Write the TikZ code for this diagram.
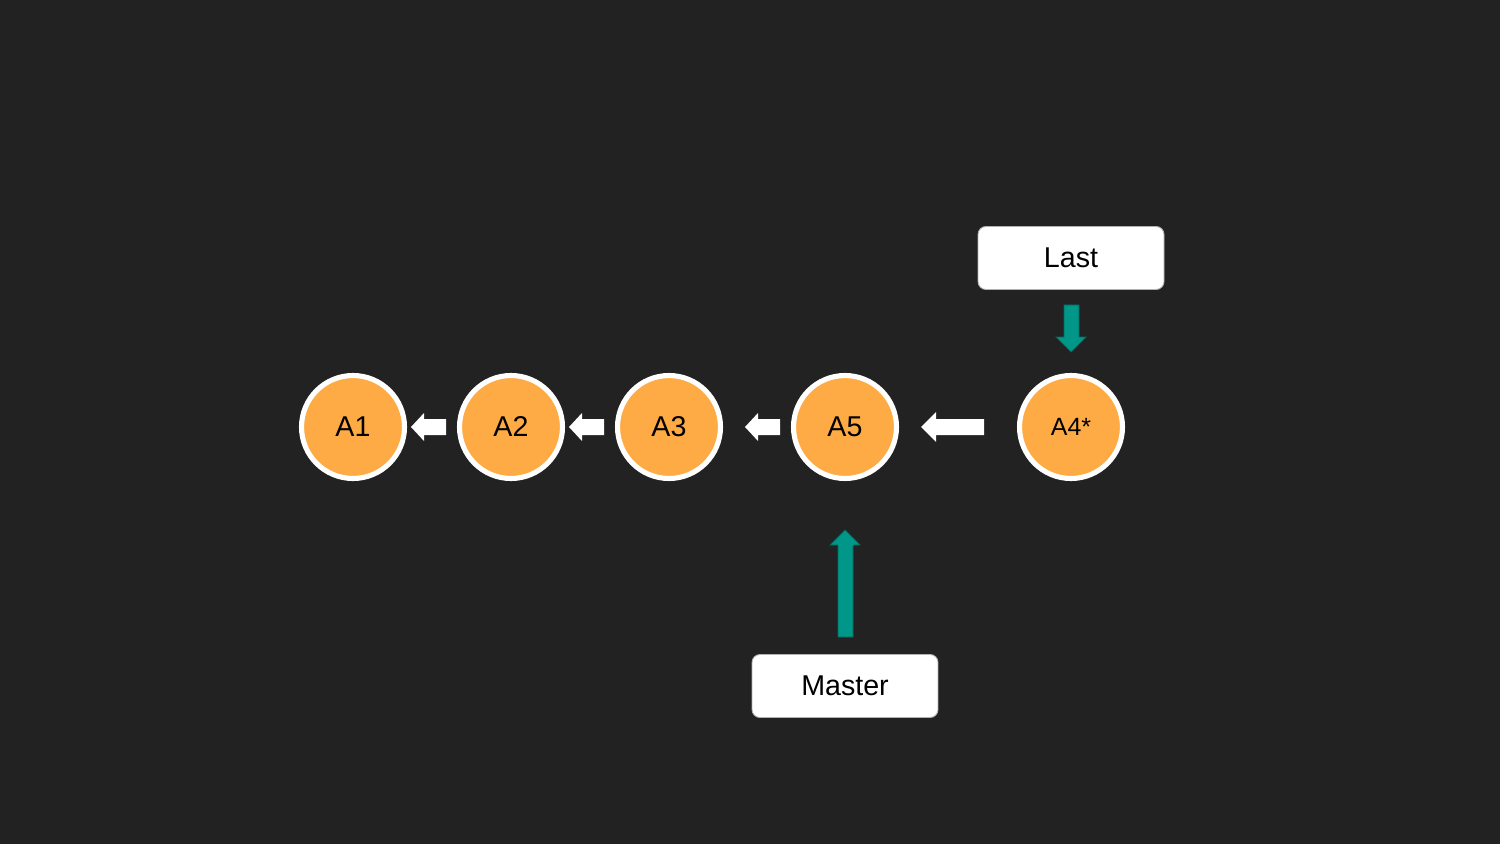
\documentclass[tikz,border=0pt]{standalone}
\usepackage{fontspec}
\setmainfont{Liberation Sans}
\begin{document}
\begin{tikzpicture}[x=0.02cm,y=-0.02cm,
  commit/.style={circle,fill=corange,draw=white,line width=2.9pt,minimum size=2.06cm,inner sep=0pt,font=\fontsize{16.3}{18}\selectfont,text=black},
  label box/.style={rectangle,rounded corners=4.5pt,fill=white,draw=gray!60,line width=0.5pt,minimum width=3.72cm,minimum height=1.26cm,font=\fontsize{16.3}{18}\selectfont,text=black},
  whitearrow/.style={fill=white},
  tealarrow/.style={fill=cteal,draw=cteal!70!black,line width=0.4pt}]
\definecolor{bg}{HTML}{222222}
\definecolor{corange}{HTML}{FFAB45}
\definecolor{cteal}{HTML}{009688}
\fill[bg] (0,0) rectangle (1500,844);
\useasboundingbox (0,0) rectangle (1500,844);
\node[commit] (a1) at (353,427) {A1};
\node[commit] (a2) at (511,427) {A2};
\node[commit] (a3) at (669,427) {A3};
\node[commit] (a5) at (845,427) {A5};
\node[commit,font=\fontsize{14.2}{16}\selectfont] (a4) at (1071,427) {A4*};
\node[label box] (last) at (1071,258) {Last};
\node[label box] (master) at (845,686) {Master};
% white left arrows: tip, tail
\newcommand{\leftarrowshape}[2]{%
  \fill[whitearrow] (#1,427) -- ({#1+13},413) -- ({#1+13},419) -- (#2,419) -- (#2,435) -- ({#1+13},435) -- ({#1+13},441) -- cycle;}
\leftarrowshape{411}{446}
\leftarrowshape{569}{604}
\leftarrowshape{745}{780}
\fill[whitearrow] (921,427) -- (936,412) -- (936,419) -- (984,419) -- (984,435) -- (936,435) -- (936,442) -- cycle;
% teal down arrow (Last -> A4*)
\draw[tealarrow] (1064,305) -- (1079,305) -- (1079,337) -- (1086,337) -- (1071,352) -- (1056,337) -- (1064,337) -- cycle;
% teal up arrow (Master -> A5)
\draw[tealarrow] (838,637) -- (853,637) -- (853,545) -- (860,545) -- (845,530) -- (830,545) -- (838,545) -- cycle;
\end{tikzpicture}
\end{document}
